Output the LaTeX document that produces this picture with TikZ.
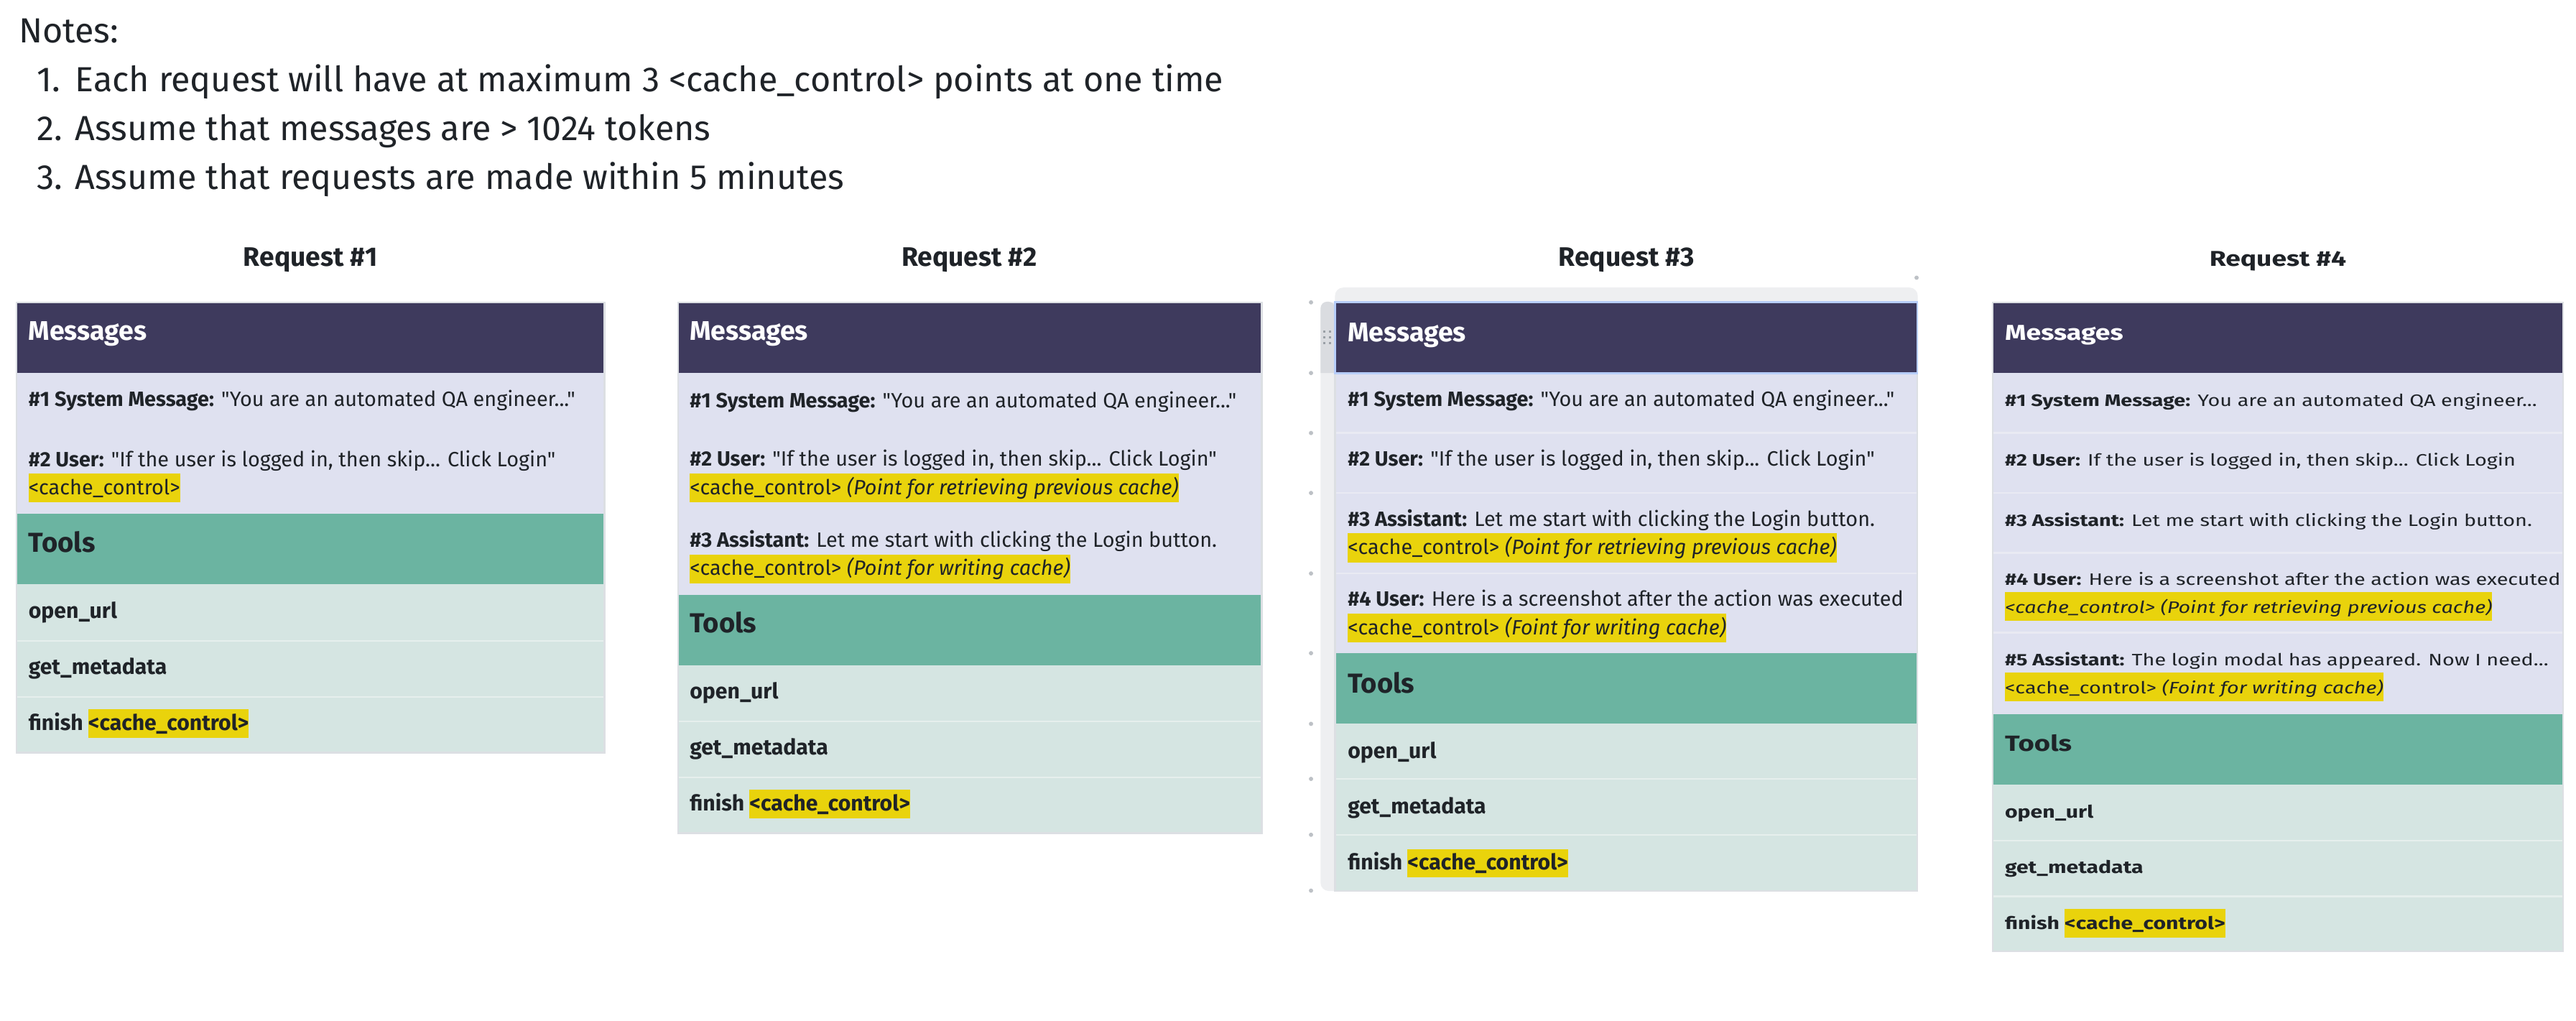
\documentclass[tikz,border=0pt]{standalone}
\usepackage{fontspec}
\setmainfont{Fira Sans}[Ligatures=TeXOff]
\usepackage{graphicx}
\definecolor{tx}{HTML}{1F2328}
\definecolor{hdrc}{HTML}{3E3A5D}
\definecolor{lav}{HTML}{DFE1F0}
\definecolor{lavsep}{HTML}{E9EAF3}
\definecolor{teal}{HTML}{6BB4A1}
\definecolor{tealL}{HTML}{D5E5E2}
\definecolor{tealsep}{HTML}{E6EFED}
\definecolor{yel}{HTML}{E9D30C}
\definecolor{brd}{HTML}{DCDFE3}
\definecolor{framec}{HTML}{EEEFF1}
\definecolor{handlec}{HTML}{DADCE0}
\definecolor{gripc}{HTML}{9AA0A6}
\definecolor{dotc}{HTML}{BDC1C6}
\definecolor{selc}{HTML}{B6CDF9}
\newcommand\hlc[1]{{\setlength{\fboxsep}{0pt}\colorbox{yel}{\rule[-2.35pt]{0pt}{8.75pt}#1}}}
\newcommand\hlt[1]{{\setlength{\fboxsep}{0pt}\colorbox{yel}{\rule[-2.4pt]{0pt}{8.7pt}#1}}}
\newcommand\sq[1]{\scalebox{1}[0.8]{#1}}
\begin{document}
\begin{tikzpicture}[x=0.5pt,y=-0.5pt,
  base/.style={inner sep=0pt, text=tx},
  notet/.style={base, anchor=west, font=\fontsize{10.6pt}{12.5pt}\selectfont, text height=7.95pt, text depth=2.65pt},
  titlet/.style={base, anchor=center, font=\fontsize{8.15pt}{10pt}\selectfont\bfseries, text height=6.1pt, text depth=2.05pt},
  hdrt/.style={base, anchor=west, text=white, font=\fontsize{8.2pt}{10pt}\selectfont\bfseries, text height=6.15pt, text depth=2.05pt},
  toolh/.style={base, anchor=west, font=\fontsize{8.35pt}{10pt}\selectfont\bfseries, text height=6.26pt, text depth=2.09pt},
  txt/.style={base, anchor=west, font=\fontsize{6.3pt}{7.6pt}\selectfont, text height=4.73pt, text depth=1.58pt},
  tool/.style={base, anchor=west, font=\fontsize{6.6pt}{8pt}\selectfont\bfseries, text height=4.95pt, text depth=1.65pt},
  rowsep/.style={line width=0.5pt},
  frameline/.style={draw=brd, line width=0.5pt},
]
\useasboundingbox (0,0) rectangle (1568,621);
\fill[white] (0,0) rectangle (1568,621);

% ---------------- Notes ----------------
\node[notet] (notes) at (11,20.5) {Notes:};
\node[notet] (n1num) at (22,50.3) {1.};
\node[notet] (n1) at (45.5,50.3) {Each request will have at maximum 3 <cache\_control> points at one time};
\node[notet] (n2num) at (22,80.1) {2.};
\node[notet] (n2) at (45.5,80.1) {Assume that messages are > 1024 tokens};
\node[notet] (n3num) at (22,109.9) {3.};
\node[notet] (n3) at (45.5,109.9) {Assume that requests are made within 5 minutes};

% ---------------- Request #1 ----------------
\node[titlet] (t1) at (189,158) {Request \#1};
\fill[hdrc] (10,184) rectangle (368,227);
\fill[lav] (10,227) rectangle (368,312.5);
\fill[teal] (10,312.5) rectangle (368,355.5);
\fill[tealL] (10,355.5) rectangle (368,458);
\draw[rowsep, tealsep] (10,390) -- (368,390) (10,424) -- (368,424);
\draw[frameline] (10,184) rectangle (368,458);
\node[hdrt] (r1m) at (17,203) {Messages};
\node[txt] (r1a) at (17,244) {\textbf{\#1 System Message:} "You are an automated QA engineer..."};
\node[txt] (r1b) at (17,280.8) {\textbf{\#2 User:} "If the user is logged in, then skip... Click Login"};
\node[txt] (r1bc) at (17,298) {\hlc{<cache\_control>}};
\node[toolh] (r1t) at (17,332) {Tools};
\node[tool] (r1o) at (17,373) {open\_url};
\node[tool] (r1g) at (17,407) {get\_metadata};
\node[tool] (r1f) at (17,441) {finish \hlt{<cache\_control>}};

% ---------------- Request #2 ----------------
\node[titlet] (t2) at (590,158) {Request \#2};
\fill[hdrc] (412.7,184) rectangle (768,227);
\fill[lav] (412.7,227) rectangle (768,362);
\fill[teal] (412.7,362) rectangle (768,405);
\fill[tealL] (412.7,405) rectangle (768,507);
\draw[rowsep, tealsep] (412.7,439) -- (768,439) (412.7,473) -- (768,473);
\draw[frameline] (412.7,184) rectangle (768,507);
\node[hdrt] (r2m) at (419.5,203) {Messages};
\node[txt] (r2a) at (419.5,244.8) {\textbf{\#1 System Message:} "You are an automated QA engineer..."};
\node[txt] (r2b) at (419.5,280.5) {\textbf{\#2 User:} "If the user is logged in, then skip... Click Login"};
\node[txt] (r2bc) at (419.5,298) {\hlc{<cache\_control> \textit{(Point for retrieving previous cache)}}};
\node[txt] (r2c) at (419.5,330) {\textbf{\#3 Assistant:} Let me start with clicking the Login button.};
\node[txt] (r2cc) at (419.5,347) {\hlc{<cache\_control> \textit{(Point for writing cache)}}};
\node[toolh] (r2t) at (419.5,381) {Tools};
\node[tool] (r2o) at (419.5,422) {open\_url};
\node[tool] (r2g) at (419.5,456) {get\_metadata};
\node[tool] (r2f) at (419.5,490) {finish \hlt{<cache\_control>}};

% ---------------- Request #3 ----------------
\node[titlet] (t3) at (990,158) {Request \#3};
\fill[framec, rounded corners=2.5] (812.6,175) rectangle (1167.3,200);
\fill[framec, rounded corners=2.5] (803.8,184) rectangle (822,542.2);
\fill[handlec] (812.6,227) -- (803.8,227) [rounded corners=2] -- (803.8,183.6) -- (812.6,183.6) [sharp corners] -- cycle;
\foreach \gx in {805.4,808.9} \foreach \gy in {201.1,204.6,208.1}
  \fill[gripc] (\gx,\gy) rectangle ++(1.5,1.5);
\foreach \dy in {184,227,263.5,300,349,397.5,440.5,474,508,542}
  \fill[dotc] (798,\dy) circle (1.3);
\fill[dotc] (1166.6,169) circle (1.3);
\fill[hdrc] (812.6,184) rectangle (1167,227);
\fill[lav] (812.6,227) rectangle (1167,397.5);
\draw[rowsep, lavsep] (812.6,263.5) -- (1167,263.5) (812.6,300) -- (1167,300) (812.6,349) -- (1167,349);
\fill[teal] (812.6,397.5) rectangle (1167,440.5);
\fill[tealL] (812.6,440.5) rectangle (1167,542.2);
\draw[rowsep, tealsep] (812.6,474) -- (1167,474) (812.6,508) -- (1167,508);
\draw[frameline] (812.6,227) -- (812.6,542.2) -- (1167,542.2) -- (1167,227);
\draw[selc, line width=0.6pt] (812.6,184) rectangle (1167,227);
\node[hdrt] (r3m) at (820,204) {Messages};
\node[txt] (r3a) at (820,244.3) {\textbf{\#1 System Message:} "You are an automated QA engineer..."};
\node[txt] (r3b) at (820,280.5) {\textbf{\#2 User:} "If the user is logged in, then skip... Click Login"};
\node[txt] (r3c) at (820,317) {\textbf{\#3 Assistant:} Let me start with clicking the Login button.};
\node[txt] (r3cc) at (820,334.3) {\hlc{<cache\_control> \textit{(Point for retrieving previous cache)}}};
\node[txt] (r3d) at (820,365.7) {\textbf{\#4 User:} Here is a screenshot after the action was executed};
\node[txt] (r3dc) at (820,383) {\hlc{<cache\_control> \textit{(Foint for writing cache)}}};
\node[toolh] (r3t) at (820,417.4) {Tools};
\node[tool] (r3o) at (820,458) {open\_url};
\node[tool] (r3g) at (820,492) {get\_metadata};
\node[tool] (r3f) at (820,526) {finish \hlt{<cache\_control>}};

% ---------------- Request #4 ----------------
\node[titlet] (t4) at (1386.5,158) {\sq{Request \#4}};
\fill[hdrc] (1213,184) rectangle (1560,227);
\fill[lav] (1213,227) rectangle (1560,434.5);
\draw[rowsep, lavsep] (1213,263.5) -- (1560,263.5) (1213,300) -- (1560,300) (1213,336.5) -- (1560,336.5) (1213,385) -- (1560,385);
\fill[teal] (1213,434.5) rectangle (1560,477.5);
\fill[tealL] (1213,477.5) rectangle (1560,579);
\draw[rowsep, tealsep] (1213,511.5) -- (1560,511.5) (1213,545.5) -- (1560,545.5);
\draw[frameline] (1213,184) rectangle (1560,579);
\node[hdrt] (r4m) at (1220,203) {\sq{Messages}};
\node[txt] (r4a) at (1220,244) {\sq{\textbf{\#1 System Message:} You are an automated QA engineer...}};
\node[txt] (r4b) at (1220,280.6) {\sq{\textbf{\#2 User:} If the user is logged in, then skip... Click Login}};
\node[txt] (r4c) at (1220,317) {\sq{\textbf{\#3 Assistant:} Let me start with clicking the Login button.}};
\node[txt] (r4d) at (1220,353) {\sq{\textbf{\#4 User:} Here is a screenshot after the action was executed}};
\node[txt] (r4dc) at (1220,370) {\hlc{\sq{\textit{<cache\_control> (Point for retrieving previous cache)}}}};
\node[txt] (r4e) at (1220,402) {\sq{\textbf{\#5 Assistant:} The login modal has appeared. Now I need...}};
\node[txt] (r4ec) at (1220,419) {\hlc{\sq{<cache\_control> \textit{(Foint for writing cache)}}}};
\node[toolh] (r4t) at (1220,453) {\sq{Tools}};
\node[tool] (r4o) at (1220,494.5) {\sq{open\_url}};
\node[tool] (r4g) at (1220,528) {\sq{get\_metadata}};
\node[tool] (r4f) at (1220,562.5) {\sq{finish} \hlt{\sq{<cache\_control>}}};
\end{tikzpicture}
\end{document}
